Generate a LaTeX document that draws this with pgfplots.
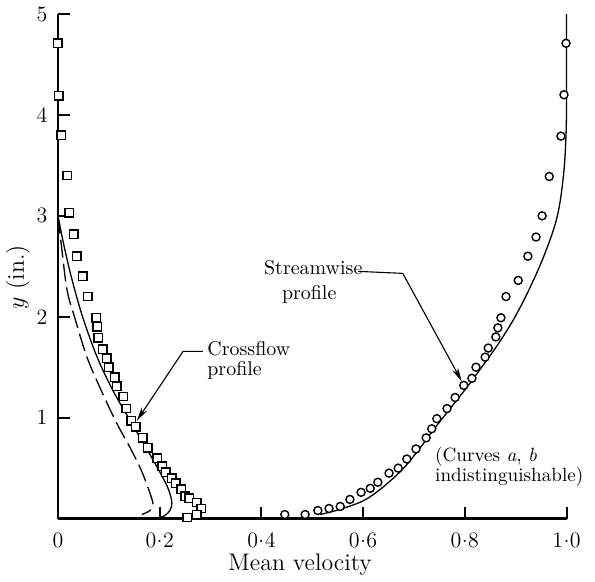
\documentclass[border=0pt]{standalone}
\usepackage{pgfplots}
\pgfplotsset{compat=1.18}
\usetikzlibrary{arrows.meta}
\newcommand{\cd}{\kern0.2pt\raisebox{0.55ex}{.}\kern0.2pt}
\begin{document}
\begin{tikzpicture}
\begin{axis}[
  scale only axis, width=254bp, height=252bp,
  xmin=0, xmax=1, ymin=0, ymax=5,
  axis lines*=left,
  axis line style={line width=1.2bp},
  tick align=inside, major tick length=6bp,
  tick style={line width=1bp, black},
  xtick={0,0.2,0.4,0.6,0.8,1},
  xticklabels={0,0\cd2,0\cd4,0\cd6,0\cd8,1\cd0},
  ytick={1,2,3,4,5},
  yticklabels={1,2,3,4,5},
  xticklabel style={anchor=center, yshift=-11bp, font=\fontsize{11}{13}\selectfont},
  yticklabel style={anchor=center, xshift=-8bp, font=\fontsize{11}{13}\selectfont},
  clip=false,
]
% crossflow curves
\addplot[line width=0.65bp, smooth, tension=0.55] coordinates {
(0.000,3.00) (0.012,2.70) (0.028,2.36) (0.049,1.99) (0.077,1.60) (0.108,1.27)
(0.142,0.97) (0.170,0.73) (0.195,0.51) (0.212,0.35) (0.220,0.25) (0.224,0.15)
(0.220,0.08) (0.210,0.03) (0.195,0.00)};
\addplot[line width=0.65bp, smooth, tension=0.55, dash pattern=on 9bp off 3bp] coordinates {
(0.000,3.00) (0.008,2.65) (0.018,2.26) (0.033,1.99) (0.057,1.60) (0.085,1.27)
(0.116,0.94) (0.140,0.72) (0.161,0.51) (0.174,0.35) (0.183,0.22) (0.187,0.14)
(0.181,0.08) (0.165,0.04)};
% streamwise curve
\addplot[line width=0.65bp, smooth, tension=0.6] coordinates {
(0.515,0.04) (0.560,0.10) (0.612,0.21) (0.672,0.46) (0.712,0.70) (0.737,0.87)
(0.771,1.09) (0.804,1.30) (0.836,1.52) (0.867,1.74) (0.900,2.01) (0.932,2.33)
(0.960,2.66) (0.982,3.00) (0.994,3.40) (0.999,3.80) (1.000,4.20) (1.000,5.00)};
% crossflow data (squares)
\addplot[only marks, mark=square*, mark size=2.1bp, mark options={fill=white, draw=black, line width=0.7bp}] coordinates {
(0.000,4.71) (0.002,4.19) (0.006,3.80) (0.018,3.40) (0.022,3.03) (0.031,2.82)
(0.037,2.60) (0.049,2.40) (0.059,2.20) (0.075,1.99) (0.077,1.90) (0.079,1.79)
(0.088,1.68) (0.096,1.59) (0.100,1.50) (0.112,1.40) (0.116,1.31) (0.128,1.21)
(0.134,1.09) (0.144,0.97) (0.153,0.91) (0.167,0.80) (0.177,0.70) (0.195,0.60)
(0.205,0.52) (0.212,0.46) (0.224,0.40) (0.232,0.35) (0.242,0.29) (0.250,0.22)
(0.258,0.20) (0.273,0.16) (0.282,0.10) (0.273,0.04) (0.254,0.01)};
% streamwise data (circles)
\addplot[only marks, mark=*, mark size=2bp, mark options={fill=white, draw=black, line width=0.7bp}] coordinates {
(0.446,0.04) (0.486,0.04) (0.511,0.08) (0.533,0.10) (0.555,0.12) (0.574,0.19)
(0.596,0.26) (0.614,0.30) (0.629,0.36) (0.651,0.45) (0.669,0.50) (0.686,0.59)
(0.704,0.69) (0.724,0.80) (0.735,0.89) (0.745,0.99) (0.765,1.09) (0.781,1.20)
(0.798,1.32) (0.814,1.39) (0.822,1.50) (0.840,1.60) (0.846,1.69) (0.861,1.80)
(0.865,1.89) (0.871,1.99) (0.881,2.20) (0.905,2.36) (0.924,2.60) (0.940,2.79)
(0.952,3.00) (0.966,3.39) (0.989,3.79) (0.995,4.20) (0.999,4.71)};
% annotations
\draw[line width=0.55bp, -{Stealth[length=7bp,width=3.2bp]}] (axis cs:0.590,2.45) -- (axis cs:0.678,2.43) -- (axis cs:0.794,1.36);
\draw[line width=0.55bp, -{Stealth[length=7bp,width=3.2bp]}] (axis cs:0.285,1.657) -- (axis cs:0.246,1.657) -- (axis cs:0.155,0.97);
\node[anchor=base, inner sep=0pt] at (axis cs:0.502,2.42) {Streamwise};
\node[anchor=base, inner sep=0pt] at (axis cs:0.494,2.17) {profile};
\node[anchor=base west, inner sep=0pt] at (axis cs:0.293,1.62) {Crossflow};
\node[anchor=base west, inner sep=0pt] at (axis cs:0.293,1.42) {profile};
\node[anchor=base west, inner sep=0pt, font=\fontsize{9.6}{11}\selectfont] at (axis cs:0.741,0.57) {(Curves \textit{a}, \textit{b}};
\node[anchor=base west, inner sep=0pt, font=\fontsize{9.6}{11}\selectfont] at (axis cs:0.741,0.37) {indistinguishable)};
\node[font=\large] at (axis cs:0.476,-0.46) {Mean velocity};
\node[font=\large, rotate=90] at (axis cs:-0.079,2.39) {$y$ (in.)};
\coordinate (bbsw) at (axis cs:-0.114,-0.625);
\coordinate (bbne) at (axis cs:1.056,5.139);
\end{axis}
\pgfresetboundingbox
\path[use as bounding box] (bbsw) rectangle (bbne);
\end{tikzpicture}
\end{document}
